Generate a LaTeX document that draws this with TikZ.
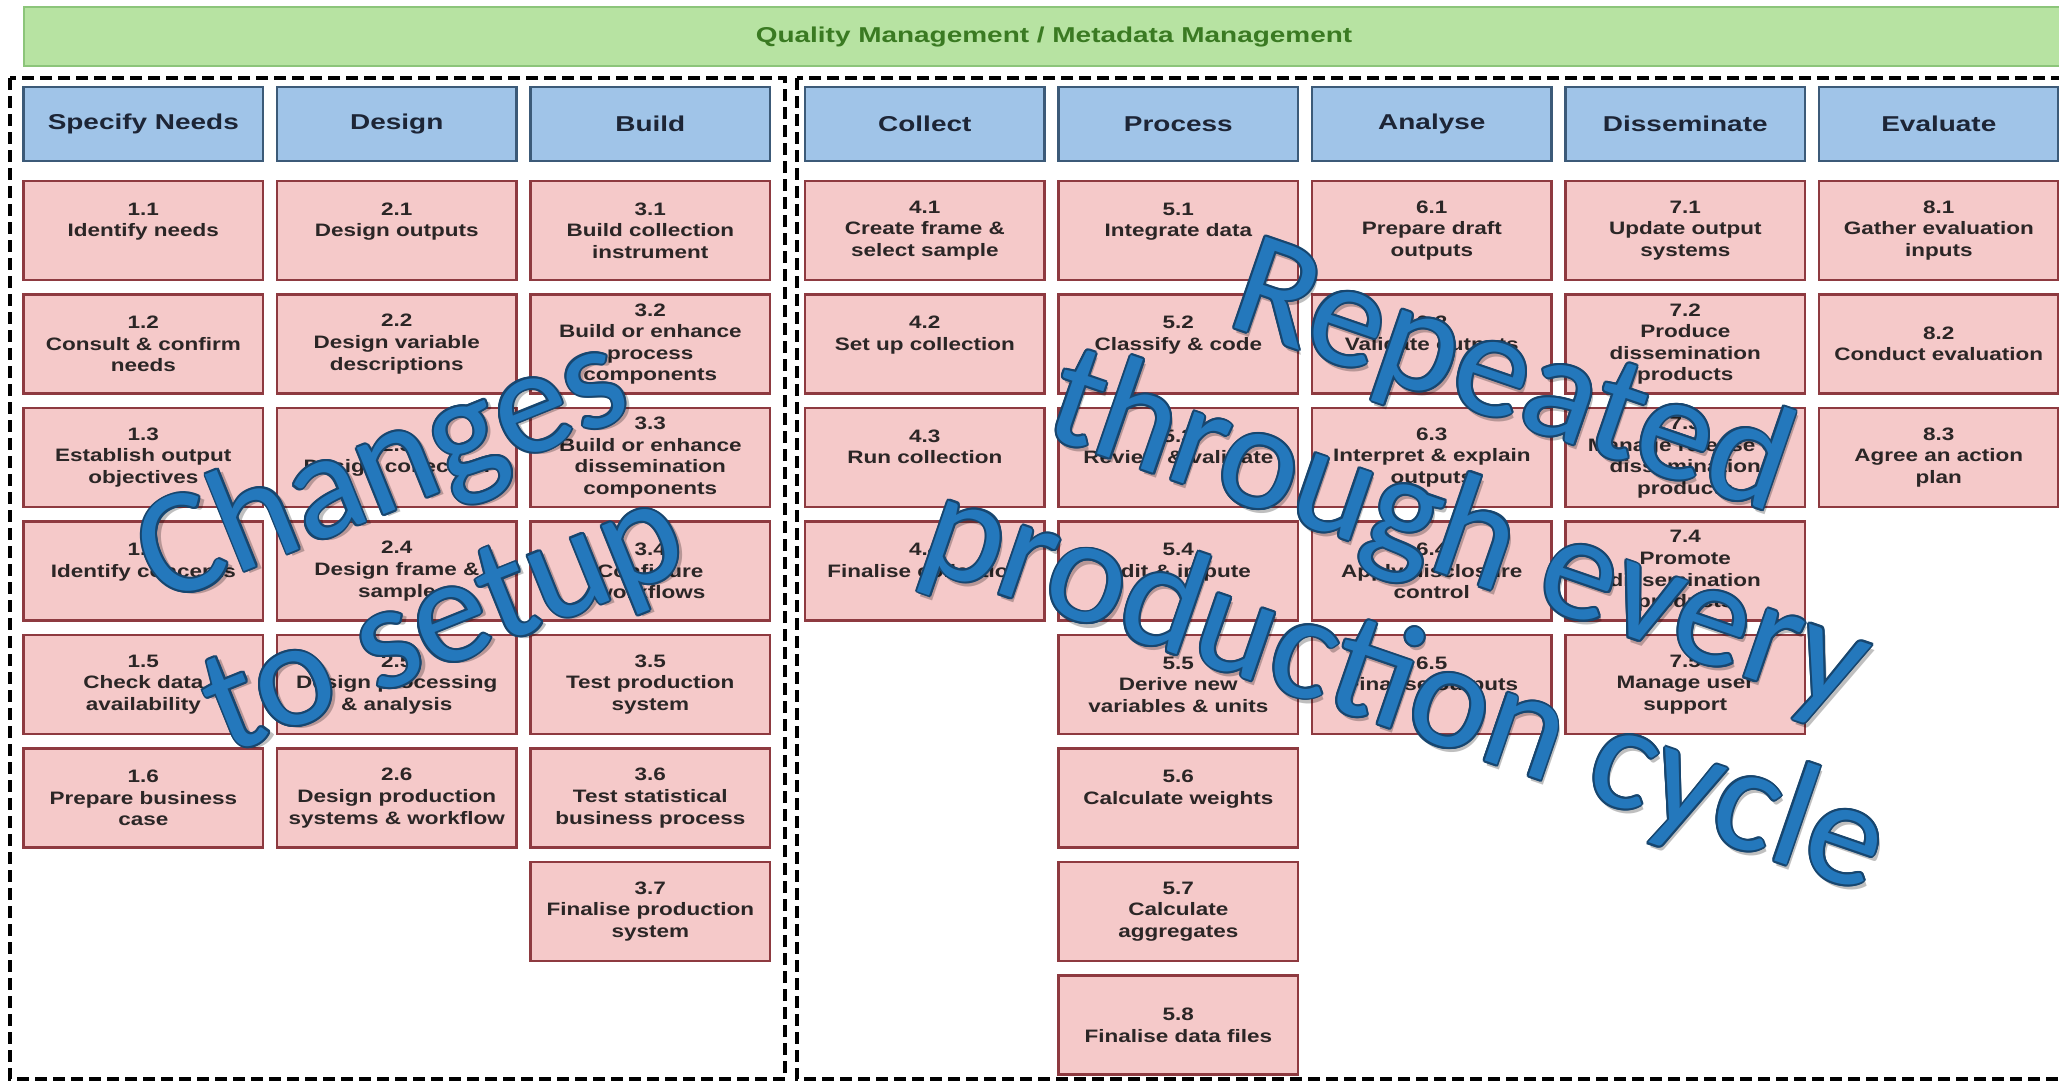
\documentclass[tikz,border=0pt]{standalone}
\usepackage{fontspec}
\setmainfont{Liberation Sans}
\newfontfamily\gridfont[FakeStretch=1.3]{Liberation Sans}
\newfontfamily\stepfont[FakeStretch=1.25]{Liberation Sans}
\newfontfamily\wordfont{Carlito}
\usetikzlibrary{positioning}

\definecolor{boxfill}{HTML}{F5C9C9}
\definecolor{boxline}{HTML}{8E3A40}
\definecolor{boxtext}{HTML}{2B2626}
\definecolor{headfill}{HTML}{A0C4E8}
\definecolor{headline}{HTML}{3C5A78}
\definecolor{headtext}{HTML}{1D2536}
\definecolor{barfill}{HTML}{B7E3A2}
\definecolor{barline}{HTML}{8CC57A}
\definecolor{bartext}{HTML}{3A7A22}
\definecolor{wordblue}{HTML}{2478BC}
\definecolor{wordline}{HTML}{17466F}

\begin{document}
\begin{tikzpicture}[x=1pt, y=-1pt,
stepbox/.style={rectangle, draw=boxline, fill=boxfill, line width=2.5pt, outer sep=0pt, minimum width=239.5pt, minimum height=99pt, inner sep=3pt, align=center, text=boxtext, font=\stepfont\bfseries\fontsize{18}{21.6}\selectfont},
phasebox/.style={rectangle, draw=headline, fill=headfill, line width=2.5pt, outer sep=0pt, minimum width=239.5pt, minimum height=74pt, inner sep=3pt, text=headtext, font=\gridfont\bfseries\fontsize{21.5}{25}\selectfont},
barbox/.style={rectangle, draw=barline, fill=barfill, line width=2pt, minimum width=2060pt, minimum height=59pt, text=bartext, font=\gridfont\bfseries\fontsize{21.5}{25}\selectfont},
groupframe/.style={draw=black, line width=3.5pt, dash pattern=on 12pt off 6pt},
wordart/.style={align=center, inner sep=0pt, font=\wordfont\fontsize{150}{164}\selectfont},
node distance=14.5pt,
]
\useasboundingbox (0,0) rectangle (2059,1081);
\clip (0,0) rectangle (2059,1081);
\fill[white] (0,0) rectangle (2059,1081);

%Bar
\node[barbox] (qm) at (1054,36.5) {Quality Management / Metadata Management};

%Frames
\draw[groupframe] (10,78) rectangle (785,1079);
\draw[groupframe] (797,78) rectangle (2085,1079);

%Phases
\node[phasebox] (h1) at (143.3,124) {Specify Needs};
\node[phasebox] (h2) [right=14pt of h1] {Design};
\node[phasebox] (h3) [right=14pt of h2] {Build};
\node[phasebox] (h4) [right=35pt of h3] {Collect};
\node[phasebox] (h5) [right=14pt of h4] {Process};
\node[phasebox] (h6) [right=14pt of h5] {Analyse};
\node[phasebox] (h7) [right=14pt of h6] {Disseminate};
\node[phasebox] (h8) [right=14pt of h7] {Evaluate};

%Specify Needs
\node[stepbox] (n11) [below=20pt of h1] {1.1\\Identify needs\\\mbox{}};
\node[stepbox] (n12) [below=of n11] {1.2\\Consult \& confirm\\needs};
\node[stepbox] (n13) [below=of n12] {1.3\\Establish output\\objectives};
\node[stepbox] (n14) [below=of n13] {1.4\\Identify concepts\\\mbox{}};
\node[stepbox] (n15) [below=of n14] {1.5\\Check data\\availability};
\node[stepbox] (n16) [below=of n15] {1.6\\Prepare business\\case};

%Design
\node[stepbox] (n21) [below=20pt of h2] {2.1\\Design outputs\\\mbox{}};
\node[stepbox] (n22) [below=of n21] {2.2\\Design variable\\descriptions};
\node[stepbox] (n23) [below=of n22] {2.3\\Design collection};
\node[stepbox] (n24) [below=of n23] {2.4\\Design frame \&\\sample};
\node[stepbox] (n25) [below=of n24] {2.5\\Design processing\\\& analysis};
\node[stepbox] (n26) [below=of n25] {2.6\\Design production\\systems \& workflow};

%Build
\node[stepbox] (n31) [below=20pt of h3] {3.1\\Build collection\\instrument};
\node[stepbox] (n32) [below=of n31] {3.2\\Build or enhance\\process\\components};
\node[stepbox] (n33) [below=of n32] {3.3\\Build or enhance\\dissemination\\components};
\node[stepbox] (n34) [below=of n33] {3.4\\Configure\\workflows};
\node[stepbox] (n35) [below=of n34] {3.5\\Test production\\system};
\node[stepbox] (n36) [below=of n35] {3.6\\Test statistical\\business process};
\node[stepbox] (n37) [below=of n36] {3.7\\Finalise production\\system};

%Collect
\node[stepbox] (n41) [below=20pt of h4] {4.1\\Create frame \&\\select sample};
\node[stepbox] (n42) [below=of n41] {4.2\\Set up collection\\\mbox{}};
\node[stepbox] (n43) [below=of n42] {4.3\\Run collection\\\mbox{}};
\node[stepbox] (n44) [below=of n43] {4.4\\Finalise collection\\\mbox{}};

%Process
\node[stepbox] (n51) [below=20pt of h5] {5.1\\Integrate data\\\mbox{}};
\node[stepbox] (n52) [below=of n51] {5.2\\Classify \& code\\\mbox{}};
\node[stepbox] (n53) [below=of n52] {5.3\\Review \& validate\\\mbox{}};
\node[stepbox] (n54) [below=of n53] {5.4\\Edit \& impute\\\mbox{}};
\node[stepbox] (n55) [below=of n54] {5.5\\Derive new\\variables \& units};
\node[stepbox] (n56) [below=of n55] {5.6\\Calculate weights\\\mbox{}};
\node[stepbox] (n57) [below=of n56] {5.7\\Calculate\\aggregates};
\node[stepbox] (n58) [below=of n57] {5.8\\Finalise data files};

%Analyse
\node[stepbox] (n61) [below=20pt of h6] {6.1\\Prepare draft\\outputs};
\node[stepbox] (n62) [below=of n61] {6.2\\Validate outputs\\\mbox{}};
\node[stepbox] (n63) [below=of n62] {6.3\\Interpret \& explain\\outputs};
\node[stepbox] (n64) [below=of n63] {6.4\\Apply disclosure\\control};
\node[stepbox] (n65) [below=of n64] {6.5\\Finalise outputs\\\mbox{}};

%Disseminate
\node[stepbox] (n71) [below=20pt of h7] {7.1\\Update output\\systems};
\node[stepbox] (n72) [below=of n71] {7.2\\Produce\\dissemination\\products};
\node[stepbox] (n73) [below=of n72] {7.3\\Manage release of\\dissemination\\products};
\node[stepbox] (n74) [below=of n73] {7.4\\Promote\\dissemination\\products};
\node[stepbox] (n75) [below=of n74] {7.5\\Manage user\\support};

%Evaluate
\node[stepbox] (n81) [below=20pt of h8] {8.1\\Gather evaluation\\inputs};
\node[stepbox] (n82) [below=of n81] {8.2\\Conduct evaluation};
\node[stepbox] (n83) [below=of n82] {8.3\\Agree an action\\plan};

%Overlay
\node[wordart, rotate=22, text=black, opacity=0.25, xshift=4pt, yshift=-4pt] (setupshadow) at (414,548) {Changes\\to setup};
\foreach \a in {0,30,...,330}
  \node[wordart, rotate=22, text=wordline, shift={(\a:2pt)}] (setup\a) at (414,548) {Changes\\to setup};
\node[wordart, rotate=22, text=wordblue] (setup) at (414,548) {Changes\\to setup};

\node[wordart, rotate=-19, text=black, opacity=0.25, xshift=4pt, yshift=-4pt] (cycleshadow) at (1458,536) {Repeated\\through every\\production cycle};
\foreach \a in {0,30,...,330}
  \node[wordart, rotate=-19, text=wordline, shift={(\a:2pt)}] (cycle\a) at (1458,536) {Repeated\\through every\\production cycle};
\node[wordart, rotate=-19, text=wordblue] (cycle) at (1458,536) {Repeated\\through every\\production cycle};
\end{tikzpicture}
\end{document}
